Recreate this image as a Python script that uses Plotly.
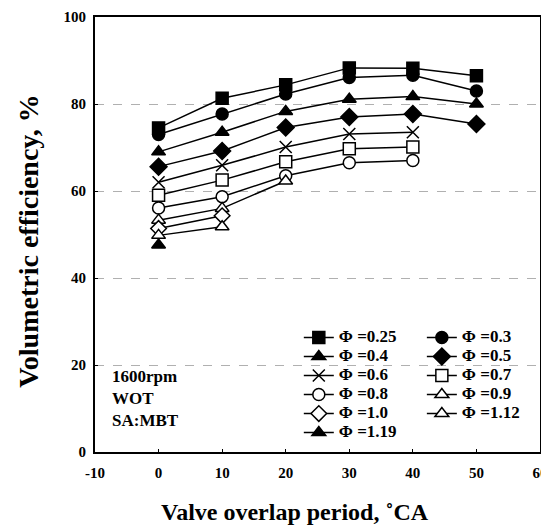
import plotly.graph_objects as go

overlap = [0, 10, 20, 30, 40, 50]

phi_labels = ["Φ =0.25", "Φ =0.3", "Φ =0.4", "Φ =0.5", "Φ =0.6", "Φ =0.7",
              "Φ =0.8", "Φ =0.9", "Φ =1.0", "Φ =1.12", "Φ =1.19"]

ve_025 = [74.5, 81.3, 84.4, 88.3, 88.2, 86.5]
ve_03 = [73.0, 77.7, 82.3, 86.1, 86.6, 83.0]
ve_04 = [69.0, 73.5, 78.3, 81.1, 81.7, 80.0]
ve_05 = [65.6, 69.2, 74.6, 77.0, 77.7, 75.4]
ve_06 = [62.0, 65.9, 70.1, 73.1, 73.5]
ve_07 = [59.0, 62.5, 66.7, 69.7, 70.1]
ve_08 = [56.1, 58.7, 63.5, 66.5, 67.0]
ve_09 = [53.3, 56.0, 62.3]
ve_10 = [51.4, 54.3]
ve_112 = [49.8, 51.8]
ve_119 = [47.6]

series = [ve_025, ve_03, ve_04, ve_05, ve_06, ve_07, ve_08, ve_09, ve_10, ve_112, ve_119]

symbols = ["square", "circle", "triangle-up", "diamond", "x-thin", "square",
           "circle", "triangle-up", "diamond", "triangle-up", "triangle-up"]
fills = ["black", "black", "black", "black", "black", "white",
         "white", "white", "white", "white", "black"]
sizes = [12, 12, 12, 13, 12, 12, 12, 12, 12, 12, 12]
legend_of = ["legend", "legend2", "legend", "legend2", "legend", "legend2",
             "legend", "legend2", "legend", "legend2", "legend"]

font_family = "Liberation Serif, Times New Roman, serif"

fig = go.Figure()
for lab, vals, sym, fc, sz, lg in zip(phi_labels, series, symbols, fills, sizes, legend_of):
    fig.add_trace(go.Scatter(
        x=overlap[:len(vals)], y=vals,
        name="<span style='font-size:17px'>" + lab + "</span>",
        mode="lines+markers",
        line=dict(color="black", width=1.5),
        marker=dict(symbol=sym, size=sz, color=fc,
                    line=dict(color="black", width=1.5)),
        legend=lg,
    ))

xt_vals = [-10, 0, 10, 20, 30, 40, 50, 60]
xt_text = ["-10", "0", "10", "20", "30", "40", "50", "60"]

axis_font = dict(family=font_family, size=15, color="black", weight="bold")
legend_font = dict(family=font_family, size=12, color="black", weight="bold")

fig.update_layout(
    template="none",
    width=549, height=522,
    margin=dict(l=87, r=17, t=9, b=78, autoexpand=False),
    paper_bgcolor="white", plot_bgcolor="white",
    font=dict(family=font_family, color="black"),
    xaxis=dict(range=[-10, 60], tickvals=xt_vals, ticktext=xt_text,
               automargin=False, ticklabeloverflow="allow",
               showgrid=False, zeroline=False,
               showline=True, linecolor="black", linewidth=2, mirror=True,
               ticks="inside", ticklen=3, tickcolor="black",
               ticklabelstandoff=6,
               tickfont=axis_font),
    yaxis=dict(range=[0, 100], tickvals=[0, 20, 40, 60, 80, 100],
               automargin=False, ticklabeloverflow="allow",
               showgrid=True, gridcolor="#b0b0b0", griddash="dash", gridwidth=1,
               zeroline=False,
               showline=True, linecolor="black", linewidth=2, mirror=True,
               ticks="inside", ticklen=3, tickcolor="black",
               ticklabelstandoff=4,
               tickfont=axis_font),
    legend=dict(x=0.458, y=0.2965, xanchor="left", yanchor="top",
                bgcolor="rgba(0,0,0,0)", tracegroupgap=0, font=legend_font),
    legend2=dict(x=0.7345, y=0.2965, xanchor="left", yanchor="top",
                 bgcolor="rgba(0,0,0,0)", tracegroupgap=0, font=legend_font),
    showlegend=True,
)

fig.add_annotation(
    x=0.45, y=-0.138, xref="paper", yref="paper", xanchor="center", yanchor="middle",
    text="Valve overlap period, ˚CA", showarrow=False,
    font=dict(family=font_family, size=24, color="black", weight="bold"),
)
fig.add_annotation(
    x=-0.151, y=0.485, xref="paper", yref="paper", xanchor="center", yanchor="middle",
    text="Volumetric efficiency, %", showarrow=False, textangle=-90,
    font=dict(family=font_family, size=28, color="black", weight="bold"),
)
fig.add_annotation(
    x=0.033, y=0.199, xref="paper", yref="paper", xanchor="left", yanchor="top",
    text="1600rpm<br>WOT<br>SA:MBT", showarrow=False, align="left",
    font=dict(family=font_family, size=17, color="black", weight="bold"),
)

fig.write_html("out.html")
